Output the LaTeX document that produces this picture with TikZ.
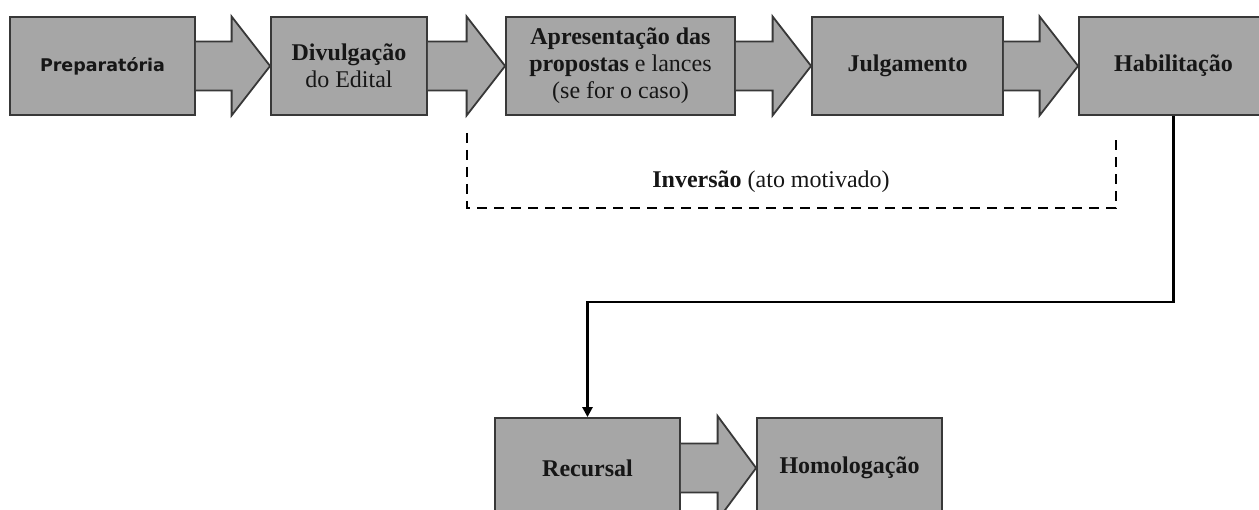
\documentclass[tikz,border=0pt]{standalone}
\usepackage{fontspec}
\setmainfont{Liberation Serif}
\newfontfamily\prepfont{DejaVu Sans}
\usetikzlibrary{calc,arrows.meta}
\definecolor{boxfill}{HTML}{A6A6A6}
\definecolor{boxline}{HTML}{383838}
\definecolor{txt}{HTML}{161616}
\tikzset{
 stage/.style={draw=boxline, fill=boxfill, line width=1.8pt, minimum height=98pt, inner sep=0pt, align=center, text=txt, font=\fontsize{24}{27}\selectfont},
 blockarrow/.style={draw=boxline, line width=1.8pt, line join=miter},
 conn/.style={draw=black, line width=2.5pt, -{Triangle[length=10pt,width=10pt]}},
 invbox/.style={draw=black, line width=2.8pt, dash pattern=on 10pt off 7pt},
 invlabel/.style={text=txt, font=\fontsize{24}{27}\selectfont, anchor=base},
}
% block arrow from node #1 to node #2; #3 shaft half height, #4 head half height
\newcommand\blockarr[4]{%
 \fill[boxfill] ($(#1.east)+(0,-#3)$) -- ($(#2.west)+(-38.5,-#3)$) -- ($(#2.west)+(-38.5,-#4)$) -- (#2.west) -- ($(#2.west)+(-38.5,#4)$) -- ($(#2.west)+(-38.5,#3)$) -- ($(#1.east)+(0,#3)$) -- cycle;
 \draw[blockarrow] ($(#1.east)+(0,-#3)$) -- ($(#2.west)+(-38.5,-#3)$) -- ($(#2.west)+(-38.5,-#4)$) -- (#2.west) -- ($(#2.west)+(-38.5,#4)$) -- ($(#2.west)+(-38.5,#3)$) -- ($(#1.east)+(0,#3)$);
}
\begin{document}
\begin{tikzpicture}[x=1pt,y=-1pt]
\useasboundingbox (0,0) rectangle (1259,510);
\clip (0,0) rectangle (1259,510);
\fill[white] (0,0) rectangle (1259,510);

% top row
\node[stage, minimum width=185pt] (prep) at (102.5,66) {\prepfont\bfseries\fontsize{17.5}{20}\selectfont Preparatória};
\node[stage, minimum width=156pt] (div) at (349,66) {\textbf{Divulgação}\\do Edital};
\node[stage, minimum width=229pt] (apr) at (620.5,66) {\textbf{Apresentação das}\\\textbf{propostas} e lances\\(se for o caso)};
\node[stage, minimum width=191pt] (jul) at (907.5,66) {\textbf{Julgamento}};
\node[stage, minimum width=189pt] (hab) at (1173.5,66) {\textbf{Habilitação}};

% bottom row
\node[stage, minimum width=185pt, minimum height=100pt] (rec) at (587.5,468) {\textbf{Recursal}};
\node[stage, minimum width=185pt, minimum height=100pt] (hom) at (849.5,468) {\textbf{Homologação}};

% block arrows
\blockarr{prep}{div}{24.5}{49.5}
\blockarr{div}{apr}{24.5}{49.5}
\blockarr{apr}{jul}{24.5}{49.5}
\blockarr{jul}{hab}{24.5}{49.5}
\blockarr{rec}{hom}{24.5}{52}

% inversion bracket
\coordinate (invTL) at (467,133);
\coordinate (invBL) at (467,208);
\coordinate (invBR) at (1116,208);
\coordinate (invTR) at (1116,133);
\draw[invbox] (invTL) -- (invBL) -- (invBR) -- (invTR);
\node[invlabel] (inv) at (771,188) {\textbf{Inversão} (ato motivado)};

% connector
\coordinate (turn) at (0,302);
\draw[conn] (hab.south) -- (hab.south |- turn) -- (rec.north |- turn) -- (rec.north);
\end{tikzpicture}
\end{document}
